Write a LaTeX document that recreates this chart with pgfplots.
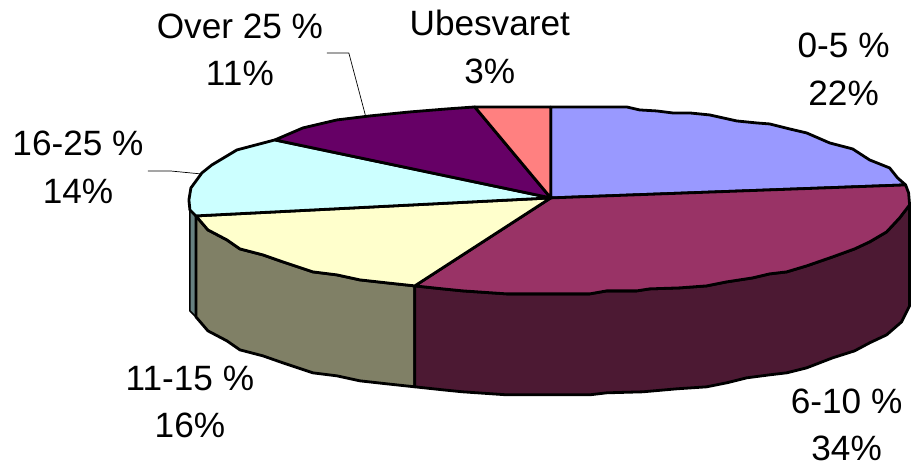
\documentclass[border=0pt]{standalone}
\usepackage{pgfplots}
\pgfplotsset{compat=1.18}
\usepackage{fontspec}
\setmainfont{Liberation Sans}

\definecolor{sliceA}{HTML}{9999FF}
\definecolor{sliceB}{HTML}{993366}
\definecolor{sliceC}{HTML}{FFFFCC}
\definecolor{sliceD}{HTML}{CCFFFF}
\definecolor{sliceE}{HTML}{660066}
\definecolor{sliceF}{HTML}{FF8080}
\definecolor{wallB}{HTML}{4C1933}
\definecolor{wallC}{HTML}{808066}
\definecolor{wallD}{HTML}{668080}

\tikzset{lab/.style={font=\fontsize{35.2}{40}\selectfont, anchor=base, inner sep=0pt, text=black}}

\begin{document}
\begin{tikzpicture}
\begin{axis}[
    x=1pt, y=1pt,
    scale only axis,
    xmin=0, xmax=911,
    ymin=0, ymax=465,
    y dir=reverse,
    hide axis,
    clip=false,
    every axis plot/.append style={draw=black, line width=2.8pt, line join=round, mark=none},
]

% keeps the page at the size of the whole frame
\addplot[draw=none] coordinates {(0,0) (911,465)};

% side walls
\addplot[fill=wallD, line width=1.6pt] coordinates {
    (190,210) (196,216) (196,317) (190,311)
} --cycle;
\addplot[fill=wallC] coordinates {
    (196,216) (208,230) (227,240) (240,249) (263,255) (283,262) (313,272)
    (337,275) (360,280) (387,283) (415,286)
    (415,387) (387,384) (360,381) (337,376) (313,373) (283,363) (263,356)
    (240,350) (227,341) (208,331) (196,317)
} --cycle;
\addplot[fill=wallB] coordinates {
    (910,205) (900,218) (887,232) (870,242) (855,249) (833,257) (807,266)
    (787,272) (770,274) (753,278) (727,282) (707,286) (680,288) (650,289)
    (637,291) (607,291) (590,294) (507,294) (463,291) (443,289) (415,286)
    (415,387) (443,390) (463,392) (507,395) (590,395) (607,393) (643,392)
    (677,389) (707,387) (727,383) (747,378) (770,375) (787,373) (807,368)
    (833,358) (855,351) (870,343) (887,335) (902,322) (910,306)
} --cycle;

% top face
\addplot[fill=sliceA] coordinates {
    (551,198) (551,107) (627,107) (640,110) (657,111) (673,113) (690,113)
    (710,115) (737,121) (757,123) (770,124) (790,129) (807,133) (830,143)
    (853,149) (870,160) (890,168) (898,178) (906,185)
} --cycle;
\addplot[fill=sliceB] coordinates {
    (551,198) (906,185) (909,193) (910,205) (900,218) (887,232) (870,242)
    (855,249) (833,257) (807,266) (787,272) (770,274) (753,278) (727,282)
    (707,286) (680,288) (650,289) (637,291) (607,291) (590,294) (507,294)
    (463,291) (443,289) (415,286)
} --cycle;
\addplot[fill=sliceC] coordinates {
    (551,198) (415,286) (387,283) (360,280) (337,275) (313,272) (283,262)
    (263,255) (240,249) (227,240) (208,230) (196,216)
} --cycle;
\addplot[fill=sliceD] coordinates {
    (551,198) (196,216) (190,210) (189,200) (191,188) (202,173) (212,165)
    (237,150) (275,140)
} --cycle;
\addplot[fill=sliceE] coordinates {
    (551,198) (275,140) (303,128) (337,120) (370,116) (410,112) (447,109)
    (475,107)
} --cycle;
\addplot[fill=sliceF] coordinates {
    (551,198) (475,107) (551,107)
} --cycle;

% leader lines
\addplot[line width=0.7pt] coordinates {(327,53) (349,53) (366,117)};
\addplot[line width=0.7pt] coordinates {(148,171) (170,171) (201,174)};

% labels
\node[lab] at (axis cs:490,36) {Ubesvaret};
\node[lab] at (axis cs:490,84) {3\%};
\node[lab] at (axis cs:240,39) {Over 25 \%};
\node[lab] at (axis cs:240,86) {11\%};
\node[lab] at (axis cs:844,58) {0-5 \%};
\node[lab] at (axis cs:844,106) {22\%};
\node[lab] at (axis cs:78,156) {16-25 \%};
\node[lab] at (axis cs:78,204) {14\%};
\node[lab] at (axis cs:190,391) {11-15 \%};
\node[lab] at (axis cs:190,438) {16\%};
\node[lab] at (axis cs:847,414) {6-10 \%};
\node[lab] at (axis cs:847,461) {34\%};

\end{axis}
\end{tikzpicture}
\end{document}
